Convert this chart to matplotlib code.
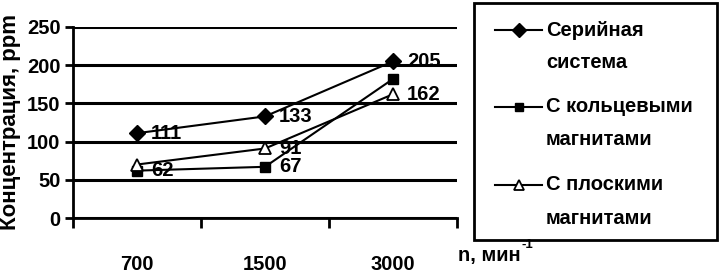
import matplotlib.pyplot as plt
from matplotlib.lines import Line2D
from matplotlib.patches import Rectangle

plt.rcParams['font.family'] = ['Liberation Sans', 'DejaVu Sans']
plt.rcParams['font.weight'] = 'bold'
plt.rcParams['axes.labelweight'] = 'bold'

categories = ['700', '1500', '3000']
serial = [111, 133, 205]
ring = [62, 67, 182]
flat = [70, 91, 162]

serial_labels = ['111', '133', '205']
ring_labels = ['62', '67', None]
flat_labels = [None, '91', '162']

names = [('Серийная', 'система'), ('С кольцевыми', 'магнитами'), ('С плоскими', 'магнитами')]
markers = [dict(marker='D', ms=8, mfc='black'),
           dict(marker='s', ms=7, mfc='black'),
           dict(marker='^', ms=8, mfc='white', mew=1.3)]

W, H = 721, 276
fig = plt.figure(figsize=(W / 100, H / 100), dpi=100)
ax = fig.add_axes([73 / W, 1 - 218 / H, 384 / W, 191 / H])

x = list(range(len(categories)))
for vals, mk in zip([serial, ring, flat], markers):
    ax.plot(x, vals, color='black', lw=1.5, mec='black', **mk)

for vals, labs in [(serial, serial_labels), (ring, ring_labels), (flat, flat_labels)]:
    for i, (v, t) in enumerate(zip(vals, labs)):
        if t:
            ax.text(i + 0.11, v, t, fontsize=14.5, va='center', ha='left')

ax.set_xlim(-0.5, 2.5)
ax.set_ylim(0, 250)
ax.set_yticks([0, 50, 100, 150, 200, 250])
ax.tick_params(axis='y', labelsize=14.5, width=2, length=6, direction='out', pad=3)
ax.set_xticks(x)
ax.set_xticklabels(categories, fontsize=14.5)
ax.set_xticks([-0.5, 0.5, 1.5, 2.5], minor=True)
ax.tick_params(axis='x', which='major', length=0, pad=27)
ax.tick_params(axis='x', which='minor', width=2, length=7, direction='out')
ax.grid(axis='y', color='black', lw=2.2)
ax.spines['top'].set_visible(False)
ax.spines['right'].set_visible(False)
ax.spines['left'].set_linewidth(2)
ax.spines['bottom'].set_linewidth(2)
ax.set_axisbelow(True)

t = fig.text(458 / W, 1 - 256 / H, 'n, мин', ha='left', va='center', fontsize=14.5)
fig.text(521 / W, 1 - 245 / H, '-1', ha='left', va='center', fontsize=9.5)
ax.set_ylabel('Концентрация, ppm', fontsize=16, labelpad=4)

# legend box drawn by hand so that the markers sit on the first text line
fig.add_artist(Rectangle((474 / W, 1 - 240 / H), 243 / W, 237 / H, transform=fig.transFigure,
                         fill=False, ec='black', lw=2))
first_rows = [30, 107, 185]
for (l1, l2), mk, yr in zip(names, markers, first_rows):
    fy = 1 - yr / H
    fig.add_artist(Line2D([495 / W, 518.5 / W, 542 / W], [fy, fy, fy], transform=fig.transFigure,
                          color='black', lw=1.5, mec='black', markevery=[1],
                          **{k: (v - 1 if k == 'ms' else v) for k, v in mk.items()}))
    fig.text(546 / W, fy, l1, fontsize=14.5, va='center', ha='left')
    fig.text(546 / W, fy - 33 / H, l2, fontsize=14.5, va='center', ha='left')

fig.savefig('out.png', dpi=100)
